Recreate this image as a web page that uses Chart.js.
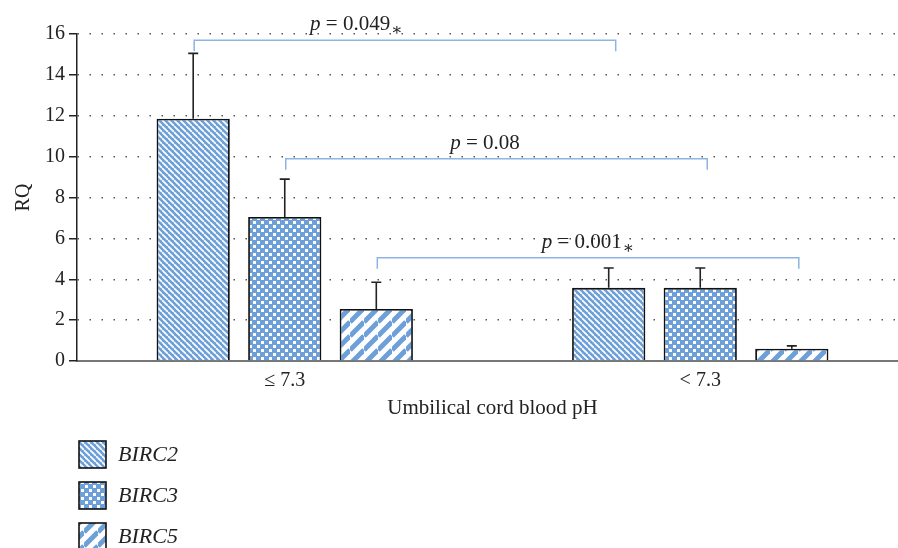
<!DOCTYPE html>
<html>
<head>
<meta charset="utf-8">
<script src="https://cdn.jsdelivr.net/npm/chart.js@4/dist/chart.umd.min.js"></script>
<style>
  html, body { margin: 0; padding: 0; background: #fff; overflow: hidden; }
  #wrap { position: relative; width: 908px; height: 548px; }
</style>
</head>
<body>
<div id="wrap"><canvas id="grafico"></canvas></div>
<script>
// datos
const categorias = ['\u2264 7.3', '< 7.3'];
const genes = ['BIRC2', 'BIRC3', 'BIRC5'];
const birc2 = [11.85, 3.58];
const birc3 = [7.05, 3.58];
const birc5 = [2.55, 0.6];
const birc2Sd = [3.2, 0.97];
const birc3Sd = [1.85, 0.97];
const birc5Sd = [1.3, 0.14];
const yTicks = [0, 2, 4, 6, 8, 10, 12, 14, 16];

// comparaciones (mismo gen entre los dos grupos de pH)
const pValores = ['0.049', '0.08', '0.001'];
const pAsterisco = [true, false, true];
const nivelCorchete = [15.7, 9.9, 5.05];

const AZUL = '#6d9fd8';
const SERIF = '"Liberation Serif", "DejaVu Serif", serif';

// patrones de relleno
function patronDiagonal() {
  const s = 6, c = document.createElement('canvas');
  c.width = s; c.height = s;
  const x = c.getContext('2d');
  x.fillStyle = AZUL; x.fillRect(0, 0, s, s);
  x.strokeStyle = '#fff'; x.lineWidth = 1.7;
  for (const k of [-s, 0, s]) {
    x.beginPath(); x.moveTo(0, k); x.lineTo(s, s + k); x.stroke();
  }
  return x.createPattern(c, 'repeat');
}
function patronPuntos() {
  const s = 8, c = document.createElement('canvas');
  c.width = s; c.height = s;
  const x = c.getContext('2d');
  x.fillStyle = AZUL; x.fillRect(0, 0, s, s);
  x.fillStyle = '#fff';
  x.fillRect(1, 1, 3, 3);
  x.fillRect(5, 5, 3, 3);
  return x.createPattern(c, 'repeat');
}
function patronRayas() {
  const s = 14, c = document.createElement('canvas');
  c.width = s; c.height = s;
  const x = c.getContext('2d');
  x.fillStyle = '#fff'; x.fillRect(0, 0, s, s);
  x.strokeStyle = AZUL; x.lineWidth = 5;
  for (const k of [0, s, 2 * s]) {
    x.beginPath(); x.moveTo(0, k); x.lineTo(s, k - s); x.stroke();
  }
  return x.createPattern(c, 'repeat');
}

const rellenos = [patronDiagonal(), patronPuntos(), patronRayas()];
const valores = [birc2, birc3, birc5];
const desviaciones = [birc2Sd, birc3Sd, birc5Sd];

const datasets = genes.map((g, i) => ({
  label: g,
  data: valores[i],
  sd: desviaciones[i],
  backgroundColor: rellenos[i],
  borderColor: '#111',
  borderWidth: 1.8,
  borderSkipped: 'bottom',
  categoryPercentage: 0.661,
  barPercentage: 0.8
}));

// barras de error, corchetes y leyenda
const extras = {
  id: 'extras',
  afterDatasetsDraw(chart) {
    const ctx = chart.ctx;
    const y = chart.scales.y;
    ctx.save();
    ctx.strokeStyle = '#222';
    ctx.lineWidth = 1.6;
    chart.data.datasets.forEach((ds, di) => {
      const meta = chart.getDatasetMeta(di);
      meta.data.forEach((bar, i) => {
        const top = y.getPixelForValue(ds.data[i] + ds.sd[i]);
        ctx.beginPath();
        ctx.moveTo(bar.x, bar.y);
        ctx.lineTo(bar.x, top);
        ctx.moveTo(bar.x - 5, top);
        ctx.lineTo(bar.x + 5, top);
        ctx.stroke();
      });
    });

    const inicioTexto = [0.275, 0.39, 0.39];
    pValores.forEach((p, i) => {
      const meta = chart.getDatasetMeta(i);
      const x1 = meta.data[0].x + 1;
      const x2 = meta.data[1].x + 7;
      const yy = y.getPixelForValue(nivelCorchete[i]);
      ctx.strokeStyle = '#8bb5e2';
      ctx.lineWidth = 1.5;
      ctx.beginPath();
      ctx.moveTo(x1, yy + 11);
      ctx.lineTo(x1, yy);
      ctx.lineTo(x2, yy);
      ctx.lineTo(x2, yy + 11);
      ctx.stroke();

      let tx = x1 + inicioTexto[i] * (x2 - x1);
      const base = yy - 10;
      ctx.fillStyle = '#222';
      ctx.textBaseline = 'alphabetic';
      ctx.textAlign = 'left';
      ctx.font = 'italic 21px ' + SERIF;
      ctx.fillText('p', tx, base);
      tx += ctx.measureText('p').width;
      ctx.font = '21px ' + SERIF;
      const resto = ' = ' + p;
      ctx.fillText(resto, tx, base);
      tx += ctx.measureText(resto).width;
      if (pAsterisco[i]) {
        ctx.font = '17px ' + SERIF;
        ctx.fillText('\u2217', tx + 1, base + 5);
      }
    });
    ctx.restore();
  },
  afterDraw(chart) {
    const ctx = chart.ctx;
    ctx.save();
    genes.forEach((g, i) => {
      const top = 441 + i * 41;
      ctx.fillStyle = rellenos[i];
      ctx.fillRect(79, top, 27, 27);
      ctx.strokeStyle = '#111';
      ctx.lineWidth = 1.6;
      ctx.strokeRect(79, top, 27, 27);
      ctx.fillStyle = '#222';
      ctx.font = 'italic 22px ' + SERIF;
      ctx.textBaseline = 'middle';
      ctx.fillText(g, 118, top + 14);
    });
    ctx.restore();
  }
};

new Chart(document.getElementById('grafico'), {
  type: 'bar',
  data: { labels: categorias, datasets: datasets },
  options: {
    responsive: true,
    maintainAspectRatio: false,
    animation: false,
    devicePixelRatio: 1,
    layout: { padding: { top: 34, bottom: 117, left: 0, right: 0 } },
    plugins: { legend: { display: false }, tooltip: { enabled: false } },
    scales: {
      x: {
        afterFit: (s) => { s.height = 70; },
        grid: { display: false, drawTicks: false },
        border: { display: true, color: '#777', width: 2 },
        ticks: { color: '#222', padding: 8, font: { family: SERIF, size: 20 } },
        title: {
          display: true,
          text: 'Umbilical cord blood pH',
          color: '#222',
          font: { family: SERIF, size: 21 },
          padding: { top: 0, bottom: 10 }
        }
      },
      y: {
        min: 0,
        max: 16,
        afterFit: (s) => { s.width = 77; },
        afterBuildTicks: (s) => { s.ticks = yTicks.map(v => ({ value: v })); },
        grid: { color: '#555', lineWidth: 1.5, tickLength: 8, tickColor: '#222', tickWidth: 1.5 },
        border: { display: true, color: '#222', width: 1.5, dash: [1.5, 10.5] },
        ticks: { color: '#222', padding: 4, font: { family: SERIF, size: 20 } },
        title: {
          display: true,
          text: 'RQ',
          color: '#222',
          font: { family: SERIF, size: 20 },
          padding: { top: 12, bottom: 0 }
        }
      }
    }
  },
  plugins: [extras]
});
</script>
</body>
</html>
